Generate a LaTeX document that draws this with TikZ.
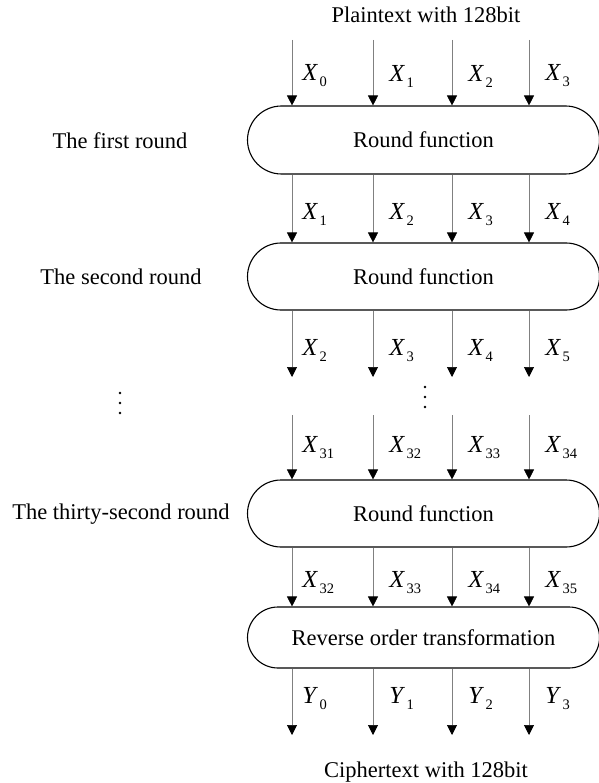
\documentclass[tikz,border=0pt]{standalone}
\usepackage{fontspec}
\setmainfont{Liberation Serif}
\usetikzlibrary{arrows.meta,shapes.misc}
% X with a dropped index, Word style
\newcommand\xv[2]{\textit{#1}\kern1.5pt\raisebox{-6pt}{\fontsize{14.5}{14.5}\selectfont #2}}

\tikzset{
	rf/.style={rounded rectangle, draw, line width=1.1pt, minimum width=352pt, inner sep=0pt},
	flow/.style={draw=black!50, line width=0.7pt, -{Triangle[black,width=10pt,length=10pt]}},
	lab/.style={anchor=west, inner sep=0pt, xshift=16pt, font=\fontsize{24.5}{24.5}\selectfont},
	labA/.style={lab, xshift=-6pt},
	dot/.style={circle, fill, inner sep=0pt, minimum size=2.8pt},
}

\begin{document}
\begin{tikzpicture}[x=1pt, y=-1pt, font=\fontsize{22.5}{27}\selectfont]
		\useasboundingbox (0,0) rectangle (598,783);
		
		%%%%% columns and loose ends %%%%%
		\coordinate (c0) at (292,0);
		\coordinate (c1) at (373,0);
		\coordinate (c2) at (452,0);
		\coordinate (c3) at (529,0);
		
		\coordinate (a0) at (292,40);  \coordinate (a1) at (373,40);
		\coordinate (a2) at (452,40);  \coordinate (a3) at (529,40);
		\coordinate (b0) at (292,377); \coordinate (b1) at (373,377);
		\coordinate (b2) at (452,377); \coordinate (b3) at (529,377);
		\coordinate (e0) at (292,415); \coordinate (e1) at (373,415);
		\coordinate (e2) at (452,415); \coordinate (e3) at (529,415);
		\coordinate (f0) at (292,735); \coordinate (f1) at (373,735);
		\coordinate (f2) at (452,735); \coordinate (f3) at (529,735);
		
		%%%%% blocks %%%%%
		\node (pt) at (426,15) {Plaintext with 128bit};
		\node[rf, minimum height=68pt] (r1) at (423.5,140) {Round function};
		\node[rf, minimum height=67pt] (r2) at (423.5,276.5) {Round function};
		\node[rf, minimum height=67pt] (r3) at (423.5,513.5) {Round function};
		\node[rf, minimum height=61pt] (r4) at (423.5,637.5) {Reverse order transformation};
		\node (ct) at (426,772) {Ciphertext with 128bit};
		
		\node (l1) at (120,141) {The first round};
		\node (l2) at (121,277) {The second round};
		\node (l3) at (121,514) {The thirty-second round};
		
		%%%%% skipped rounds %%%%%
		\node[dot] (d1a) at (120,393) {};
		\node[dot] (d1b) at (120,403) {};
		\node[dot] (d1c) at (120,413) {};
		\node[dot] (d2a) at (425,387) {};
		\node[dot] (d2b) at (425,397) {};
		\node[dot] (d2c) at (425,407) {};
		
		%%%%% first rounds %%%%%
		\draw[flow] (a0) -- node[pos=.55, labA] {\xv{X}{0}} (r1.north -| c0);
		\draw[flow] (a1) -- node[pos=.55, lab] {\xv{X}{1}} (r1.north -| c1);
		\draw[flow] (a2) -- node[pos=.55, lab] {\xv{X}{2}} (r1.north -| c2);
		\draw[flow] (a3) -- node[pos=.55, lab] {\xv{X}{3}} (r1.north -| c3);
		
		\draw[flow] (r1.south -| c0) -- node[pos=.59, labA] {\xv{X}{1}} (r2.north -| c0);
		\draw[flow] (r1.south -| c1) -- node[pos=.59, lab] {\xv{X}{2}} (r2.north -| c1);
		\draw[flow] (r1.south -| c2) -- node[pos=.59, lab] {\xv{X}{3}} (r2.north -| c2);
		\draw[flow] (r1.south -| c3) -- node[pos=.59, lab] {\xv{X}{4}} (r2.north -| c3);
		
		\draw[flow] (r2.south -| c0) -- node[pos=.6, labA] {\xv{X}{2}} (b0);
		\draw[flow] (r2.south -| c1) -- node[pos=.6, lab] {\xv{X}{3}} (b1);
		\draw[flow] (r2.south -| c2) -- node[pos=.6, lab] {\xv{X}{4}} (b2);
		\draw[flow] (r2.south -| c3) -- node[pos=.6, lab] {\xv{X}{5}} (b3);
		
		%%%%% last round %%%%%
		\draw[flow] (e0) -- node[pos=.5, labA] {\xv{X}{31}} (r3.north -| c0);
		\draw[flow] (e1) -- node[pos=.5, lab] {\xv{X}{32}} (r3.north -| c1);
		\draw[flow] (e2) -- node[pos=.5, lab] {\xv{X}{33}} (r3.north -| c2);
		\draw[flow] (e3) -- node[pos=.5, lab] {\xv{X}{34}} (r3.north -| c3);
		
		\draw[flow] (r3.south -| c0) -- node[pos=.6, labA] {\xv{X}{32}} (r4.north -| c0);
		\draw[flow] (r3.south -| c1) -- node[pos=.6, lab] {\xv{X}{33}} (r4.north -| c1);
		\draw[flow] (r3.south -| c2) -- node[pos=.6, lab] {\xv{X}{34}} (r4.north -| c2);
		\draw[flow] (r3.south -| c3) -- node[pos=.6, lab] {\xv{X}{35}} (r4.north -| c3);
		
		\draw[flow] (r4.south -| c0) -- node[pos=.45, labA] {\xv{Y}{0}} (f0);
		\draw[flow] (r4.south -| c1) -- node[pos=.45, lab] {\xv{Y}{1}} (f1);
		\draw[flow] (r4.south -| c2) -- node[pos=.45, lab] {\xv{Y}{2}} (f2);
		\draw[flow] (r4.south -| c3) -- node[pos=.45, lab] {\xv{Y}{3}} (f3);
		
\end{tikzpicture}
\end{document}
